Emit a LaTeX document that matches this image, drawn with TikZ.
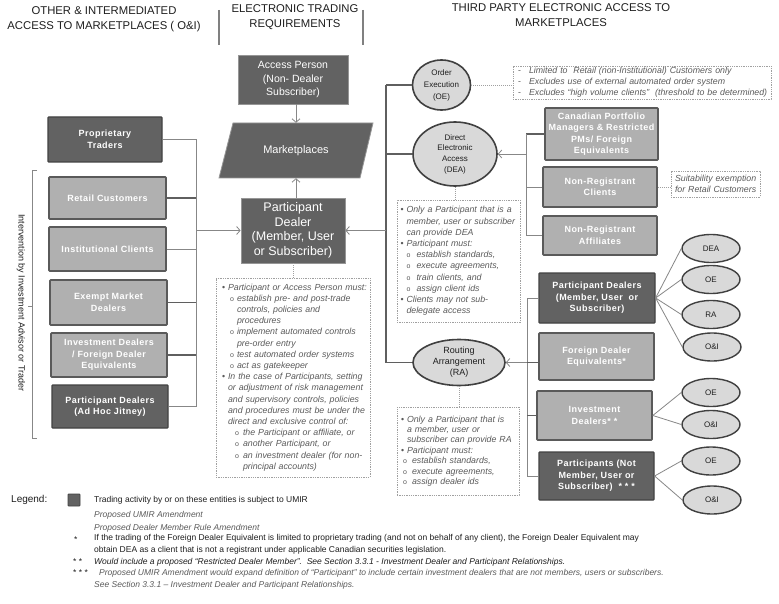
\documentclass[tikz,border=0pt]{standalone}
\usepackage{fontspec}
\setmainfont{Liberation Sans}
\newfontfamily\bxfont[LetterSpace=5]{Liberation Sans}
\usetikzlibrary{arrows.meta,shapes.geometric}
\definecolor{dfill}{RGB}{98,98,98}
\definecolor{dline}{RGB}{66,66,66}
\definecolor{lfill}{RGB}{176,176,176}
\definecolor{lline}{RGB}{90,90,90}
\definecolor{efill}{RGB}{217,217,217}
\definecolor{eline}{RGB}{64,64,64}
\definecolor{mline}{RGB}{150,150,150}
\definecolor{cline}{RGB}{135,135,135}
\definecolor{cdark}{RGB}{95,95,95}
\definecolor{nline}{RGB}{160,160,160}
\definecolor{ntext}{RGB}{90,90,90}
\definecolor{htext}{RGB}{30,30,30}
\newcommand\nbul[1]{\makebox[6pt][l]{\upshape\textbullet}\mbox{#1}}
\newcommand\nsub[3]{\hspace*{#1}\makebox[#2][l]{\upshape\fontsize{7}{7}\selectfont o}\mbox{#3}}
\newcommand\nind[2]{\hspace*{#1}\mbox{#2}}
\newcommand\ndash[1]{\makebox[11pt][l]{\upshape -}\mbox{#1}}
\begin{document}
\begin{tikzpicture}[x=1pt,y=-1pt,
  hdr/.style={font=\fontsize{11.3}{15}\selectfont, text=htext, align=center, inner sep=0pt},
  sepline/.style={draw=gray, line width=1.8pt},
  dbox/.style={draw=dline, fill=dfill, line width=1.2pt, text=white, align=center, inner sep=1pt, rounded corners=0.8pt, font=\bxfont\bfseries\fontsize{9}{11.5}\selectfont},
  lbox/.style={dbox, fill=lfill, draw=lline, line width=1.6pt},
  mbox/.style={draw=mline, fill=dfill, line width=0.8pt, text=white, align=center, inner sep=1pt},
  bigell/.style={ellipse, draw=eline, fill=efill, line width=1.6pt, align=center, inner sep=0pt, text=htext},
  smell/.style={ellipse, draw=eline, fill=efill, line width=1.4pt, minimum width=58pt, minimum height=28pt, inner sep=0pt, font=\fontsize{8}{9}\selectfont, text=htext},
  note/.style={draw=nline, dash pattern=on 1.3pt off 1pt, line width=0.6pt, font=\itshape\fontsize{8.8}{11.2}\selectfont, text=ntext, align=left},
  conn/.style={draw=cline, line width=0.8pt},
  dconn/.style={draw=cdark, line width=1.2pt},
  arr/.style={conn, -{Straight Barb[length=3.5pt,width=8pt]}},
  dotc/.style={draw=nline, dash pattern=on 1pt off 1pt, line width=0.6pt},
  brk/.style={draw=cline, line width=0.7pt},
  lg/.style={anchor=west, inner sep=0pt, font=\fontsize{8.5}{11.5}\selectfont, text=htext, align=left},
  lgi/.style={lg, font=\itshape\fontsize{8.5}{11.5}\selectfont, text=ntext}]
\useasboundingbox (0,0) rectangle (779,604);
\fill[white] (0,0) rectangle (779,604);

% headers
\node[hdr] (h1) at (104,19.5) {OTHER \& INTERMEDIATED\\ACCESS TO MARKETPLACES ( O\&I)};
\node[hdr] (h2) at (295,17.5) {ELECTRONIC TRADING\\REQUIREMENTS};
\node[hdr] (h3) at (561,15) {THIRD PARTY ELECTRONIC ACCESS TO\\MARKETPLACES};
\draw[sepline] (219,10) -- (219,45);
\draw[sepline] (363,10) -- (363,45);

% left column
\node[dbox, minimum width=114pt, minimum height=45pt] (pt) at (105,139.5) {Proprietary\\Traders};
\node[lbox, minimum width=117pt, minimum height=42pt] (rc) at (107.5,198) {Retail Customers};
\node[lbox, minimum width=117pt, minimum height=44pt] (ic) at (107.5,249) {Institutional Clients};
\node[lbox, minimum width=117pt, minimum height=45pt] (emd) at (108.5,302.5) {Exempt Market\\Dealers};
\node[lbox, minimum width=116pt, minimum height=44pt] (idf) at (109,355) {Investment Dealers\\/ Foreign Dealer\\Equivalents};
\node[dbox, minimum width=116pt, minimum height=43pt] (pdj) at (110,406.5) {Participant Dealers\\(Ad Hoc Jitney)};

\draw[brk] (37,170) -- (32,170) -- (32,438) -- (37,438);
\draw[brk] (32,306) -- (28,306);
\node[rotate=-90, inner sep=0pt, font=\fontsize{9}{10}\selectfont, text=htext] (iv) at (21,303) {Intervention by Investment Advisor or Trader};

% middle column
\node[mbox, minimum width=110pt, minimum height=49pt, font=\fontsize{10.5}{13.5}\selectfont] (ap) at (293,79.5) {Access Person\\(Non- Dealer\\Subscriber)};
\draw[draw=mline, fill=dfill, line width=0.8pt] (233,123) -- (373,123) -- (360,178) -- (219,178) -- cycle;
\node[minimum width=120pt, minimum height=55pt, inner sep=0pt, text=white, font=\fontsize{11}{13}\selectfont] (mp) at (296,150.5) {Marketplaces};
\node[mbox, minimum width=104pt, minimum height=65pt, font=\fontsize{12.5}{14.5}\selectfont] (pd) at (293,230.5) {Participant\\Dealer\\(Member, User\\or Subscriber)};

\node[note, text width=142pt, minimum height=199pt, inner xsep=6pt, inner ysep=2pt] (pdn) at (293,377.5) {%
\nbul{Participant or Access Person must:}\\
\nsub{8pt}{7pt}{establish pre- and post-trade}\\
\nind{15pt}{controls, policies and}\\
\nind{15pt}{procedures}\\
\nsub{8pt}{7pt}{implement automated controls}\\
\nind{15pt}{pre-order entry}\\
\nsub{8pt}{7pt}{test automated order systems}\\
\nsub{8pt}{7pt}{act as gatekeeper}\\
\nbul{In the case of Participants, setting}\\
\nind{6pt}{or adjustment of risk management}\\
\nind{6pt}{and supervisory controls, policies}\\
\nind{6pt}{and procedures must be under the}\\
\nind{6pt}{direct and exclusive control of:}\\
\nsub{13pt}{8pt}{the Participant or affiliate, or}\\
\nsub{13pt}{8pt}{another Participant, or}\\
\nsub{13pt}{8pt}{an investment dealer (for non-}\\
\nind{21pt}{principal accounts)}};

% right: access ellipses
\node[bigell, minimum width=58pt, minimum height=50pt, font=\fontsize{8}{12}\selectfont] (oe) at (441.5,85) {Order\\Execution\\(OE)};
\node[bigell, minimum width=84pt, minimum height=64pt, font=\fontsize{8}{10.7}\selectfont] (dea) at (455,154) {Direct\\Electronic\\Access\\(DEA)};
\node[bigell, minimum width=92pt, minimum height=46pt, font=\fontsize{9}{11}\selectfont] (ra) at (459,362.5) {Routing\\Arrangement\\(RA)};

\node[note, text width=248pt, minimum height=33pt, inner xsep=5pt, inner ysep=1pt] (oen) at (642,82.5) {%
\ndash{Limited to\ \ Retail (non-Institutional) Customers only}\\
\ndash{Excludes use of external automated order system}\\
\ndash{Excludes “high volume clients”\ \ (threshold to be determined)}};

\node[note, text width=116pt, minimum height=122pt, inner xsep=3.5pt, inner ysep=2pt] (dean) at (458.5,261) {%
\nbul{Only a Participant that is a}\\
\nind{6pt}{member, user or subscriber}\\
\nind{6pt}{can provide DEA}\\
\nbul{Participant must:}\\
\nsub{6pt}{10pt}{establish standards,}\\
\nsub{6pt}{10pt}{execute agreements,}\\
\nsub{6pt}{10pt}{train clients, and}\\
\nsub{6pt}{10pt}{assign client ids}\\
\nbul{Clients may not sub-}\\
\nind{6pt}{delegate access}};

\node[note, text width=114pt, minimum height=88pt, inner xsep=4pt, inner ysep=2pt, font=\itshape\fontsize{8.8}{10.4}\selectfont] (ran) at (458,451) {%
\nbul{Only a Participant that is}\\
\nind{6pt}{a member, user or}\\
\nind{6pt}{subscriber can provide RA}\\
\nbul{Participant must:}\\
\nsub{2pt}{9pt}{establish standards,}\\
\nsub{2pt}{9pt}{execute agreements,}\\
\nsub{2pt}{9pt}{assign dealer ids}};

% DEA group
\node[lbox, minimum width=113pt, minimum height=52pt] (cpm) at (601.5,134) {Canadian Portfolio\\Managers \& Restricted\\PMs/ Foreign\\Equivalents};
\node[lbox, minimum width=114pt, minimum height=40pt] (nrc) at (600,187) {Non-Registrant\\Clients};
\node[lbox, minimum width=114pt, minimum height=39pt] (nra) at (600,235.5) {Non-Registrant\\Affiliates};
\node[note, text width=81pt, minimum height=26pt, inner xsep=4pt, inner ysep=1pt, font=\itshape\fontsize{8.8}{11}\selectfont] (sn) at (715.5,184) {\nind{0pt}{Suitability exemption}\\\nind{0pt}{for Retail Customers}};

% participant group
\node[dbox, minimum width=116pt, minimum height=50pt] (pdm) at (597,298) {Participant Dealers\\(Member, User\ \ or\\Subscriber)};
\node[lbox, minimum width=115pt, minimum height=47pt] (fde) at (596.5,356.5) {Foreign Dealer\\Equivalents*};
\node[lbox, minimum width=115pt, minimum height=49pt] (ind) at (594.5,415.5) {Investment\\Dealers* *};
\node[dbox, minimum width=115pt, minimum height=48pt] (pnm) at (596.5,476) {Participants (Not\\Member, User or\\Subscriber)\ \ * * *};

\node[smell] (e1) at (711,248.5) {DEA};
\node[smell] (e2) at (711,279.5) {OE};
\node[smell] (e3) at (711,314.5) {RA};
\node[smell] (e4) at (712,347) {O\&I};
\node[smell] (e5) at (711,392.5) {OE};
\node[smell] (e6) at (711,424.5) {O\&I};
\node[smell] (e7) at (711,461) {OE};
\node[smell] (e8) at (712,500) {O\&I};

% bus coordinates
\coordinate (lb) at (196,0);
\coordinate (rb) at (386,0);
\coordinate (db) at (526,0);
\coordinate (pb) at (527,0);

% left bus
\draw[conn] (pt.east) -- (pt.east -| lb);
\draw[conn] (pt.east -| lb) -- (pdj.east -| lb);
\draw[dconn] (rc.east) -- (rc.east -| lb);
\draw[conn] (ic.east) -- (ic.east -| lb);
\draw[dconn] (emd.east) -- (emd.east -| lb);
\draw[dconn] (idf.east) -- (idf.east -| lb);
\draw[conn] (pdj.east) -- (pdj.east -| lb);
\draw[arr] (pd.west -| lb) -- (pd.west);

% middle arrows
\draw[arr] ([xshift=3pt]ap.south) -- ([xshift=3pt]ap.south |- mp.north);
\draw[arr] ([xshift=3pt]pd.north) -- ([xshift=3pt]pd.north |- mp.south);
\draw[dotc] (pd.south) -- (pd.south |- pdn.north);

% right bus
\draw[dconn] (oe.west -| rb) -- (ra.west -| rb);
\draw[dconn] (oe.west -| rb) -- (oe.west);
\draw[dconn] (dea.west -| rb) -- (dea.west);
\draw[arr] (pd.east -| rb) -- (pd.east);
\draw[dconn] (ra.west -| rb) -- (ra.west);
\draw[dotc] (oe.east) -- (oe.east -| oen.west);
\draw[dotc] (dea.south) -- (dea.south |- dean.north);
\draw[dotc] (ra.south) -- (ra.south |- ran.north);

% DEA bus
\draw[dconn] (cpm.west -| db) -- (cpm.west);
\draw[conn] (cpm.west -| db) -- (nra.west -| db);
\draw[conn] (nrc.west -| db) -- (nrc.west);
\draw[conn] (nra.west -| db) -- (nra.west);
\draw[arr] (dea.east -| db) -- (dea.east);
\draw[dotc] (nrc.east) -- (nrc.east -| sn.west);

% participant bus
\draw[conn] (pdm.west -| pb) -- (pdm.west);
\draw[conn] (pdm.west -| pb) -- (pnm.west -| pb);
\draw[arr] (ra.east -| pb) -- (ra.east);
\draw[dconn] (ra.east -| pb) -- (ra.east -| fde.west);
\draw[dconn] (ind.west -| pb) -- (ind.west);
\draw[conn] (pnm.west -| pb) -- (pnm.west);

\draw[conn] (pdm.east) -- (e1.west);
\draw[conn] (pdm.east) -- (e2.west);
\draw[conn] (pdm.east) -- (e3.west);
\draw[conn] (pdm.east) -- (e4.west);
\draw[conn] (ind.east) -- (e5.west);
\draw[conn] (ind.east) -- (e6.west);
\draw[conn] (pnm.east) -- (e7.west);
\draw[conn] (pnm.east) -- (e8.west);

% legend
\node[anchor=west, inner sep=0pt, font=\fontsize{10}{12}\selectfont, text=htext] (lgd) at (11,500) {Legend:};
\node[draw=dline, fill=dfill, line width=0.8pt, minimum size=12pt, inner sep=0pt, rounded corners=0.8pt] (lsq) at (74,500) {};
\node[lg] (l1) at (94,500) {Trading activity by or on these entities is subject to UMIR};
\node[lgi] (l2) at (94,515) {Proposed UMIR Amendment};
\node[lgi] (l3) at (94,528) {Proposed Dealer Member Rule Amendment};
\node[lg] (s1) at (74,539.5) {*};
\node[lg] (l4) at (94,544.5) {If the trading of the Foreign Dealer Equivalent is limited to proprietary trading (and not on behalf of any client), the Foreign Dealer Equivalent may\\obtain DEA as a client that is not a registrant under applicable Canadian securities legislation.};
\node[lg] (s2) at (73,562) {* *};
\node[lgi, text=htext] (l5) at (94,562) {Would include a proposed “Restricted Dealer Member”.\ \ See Section 3.3.1 - Investment Dealer and Participant Relationships.};
\node[lg] (s3) at (73,573) {* * *};
\node[lgi] (l6) at (99,573) {Proposed UMIR Amendment would expand definition of “Participant” to include certain investment dealers that are not members, users or subscribers.};
\node[lgi] (l7) at (94,585) {See Section 3.3.1 – Investment Dealer and Participant Relationships.};
\end{tikzpicture}
\end{document}
